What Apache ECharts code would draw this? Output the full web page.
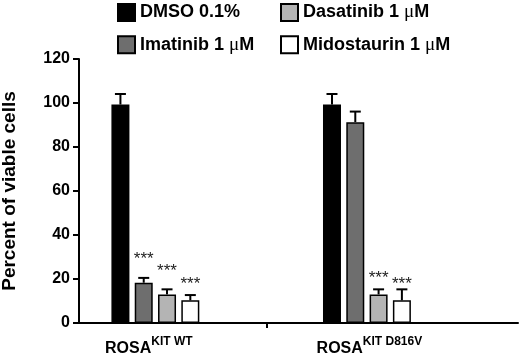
<!DOCTYPE html>
<html>
<head>
<meta charset="utf-8">
<script src="https://cdn.jsdelivr.net/npm/echarts@6/dist/echarts.min.js"></script>
<style>
html, body { margin: 0; padding: 0; background: #fff; }
#chart { width: 520px; height: 355px; }
</style>
</head>
<body>
<div id="chart"></div>
<script>
// groups on the x axis (0 and 1), their labels
var groups = [0, 1];
var groupBase = ['ROSA', 'ROSA'];
var groupSup = ['KIT WT', 'KIT D816V'];
var seriesNames = ['DMSO 0.1%', 'Imatinib 1 μM', 'Dasatinib 1 μM', 'Midostaurin 1 μM'];
var seriesColors = ['#000000', '#6e6e6e', '#b4b4b4', '#ffffff'];

// percent of viable cells, mean and error
var dmso = [99.3, 99.3];
var dmsoErr = [4.8, 4.8];
var imatinib = [18.3, 91.3];
var imatinibErr = [2.2, 4.8];
var dasatinib = [13.0, 13.0];
var dasatinibErr = [2.3, 2.3];
var midostaurin = [10.3, 10.3];
var midostaurinErr = [2.4, 5.0];

// where the *** marks sit (axis value), null = no mark
var dmsoStars = [null, null];
var imatinibStars = [30.8, null];
var dasatinibStars = [25.1, 22.0];
var midostaurinStars = [19.4, 19.4];

var yTicks = [0, 20, 40, 60, 80, 100, 120];
var dividerTicks = [0.527];

var BAR_W = 18;
var BAR_STEP = 23.3;
var CAP_W = 11;

var chart = echarts.init(document.getElementById('chart'));

var means = [dmso, imatinib, dasatinib, midostaurin];
var errs = [dmsoErr, imatinibErr, dasatinibErr, midostaurinErr];
var stars = [dmsoStars, imatinibStars, dasatinibStars, midostaurinStars];

var barSeries = [];
var errData = [];
var starData = [];
for (var s = 0; s < seriesNames.length; s++) {
	var d = [];
	for (var g = 0; g < groups.length; g++) {
		d.push([groups[g], means[s][g]]);
		errData.push([groups[g], means[s][g], errs[s][g], s]);
		if (stars[s][g] != null) starData.push([groups[g], stars[s][g], s]);
	}
	barSeries.push({
		name: seriesNames[s],
		type: 'bar',
		barWidth: BAR_W,
		barGap: ((BAR_STEP - BAR_W) / BAR_W * 100) + '%',
		itemStyle: { color: seriesColors[s], borderColor: '#000', borderWidth: 1.5 },
		data: d,
		z: 2
	});
}

var fontMain = "'Liberation Sans', Arial, sans-serif";
var labelShift = 0.238;

function legendFmt(name) {
	return name.replace('μ', '{mu|μ}');
}
var legendText = {
	fontSize: 18, fontWeight: 'bold', fontFamily: fontMain, color: '#000',
	rich: { mu: { fontSize: 19, fontFamily: "'Liberation Serif', serif", fontWeight: 'normal', color: '#000' } }
};

var option = {
	animation: false,
	legend: [{
		data: [seriesNames[0], seriesNames[1]],
		orient: 'vertical', left: 117, top: 3, padding: 0,
		icon: 'rect', itemWidth: 17, itemHeight: 17, itemGap: 13.3,
		formatter: legendFmt, textStyle: legendText
	}, {
		data: [seriesNames[2], seriesNames[3]],
		orient: 'vertical', left: 280, top: 3, padding: 0,
		icon: 'rect', itemWidth: 17, itemHeight: 17, itemGap: 13.3,
		formatter: legendFmt, textStyle: legendText
	}],
	grid: { left: 79, right: 2, top: 59, bottom: 32, outerBoundsMode: 'none', containLabel: false },
	xAxis: {
		type: 'value',
		min: -0.361,
		max: 1.714,
		splitLine: { show: false },
		axisLine: { lineStyle: { color: '#000', width: 2 } },
		axisTick: { customValues: dividerTicks, length: 5, lineStyle: { color: '#000', width: 2 } },
		axisLabel: {
			customValues: groups.map(function (g) { return g - labelShift; }),
			align: 'left',
			margin: 13,
			formatter: function (v) {
				var i = Math.round(v + labelShift);
				return '{b|' + groupBase[i] + '}{s|' + groupSup[i] + '}';
			},
			rich: {
				b: { fontSize: 16, fontWeight: 'bold', fontFamily: fontMain, color: '#000', lineHeight: 25 },
				s: { fontSize: 12, fontWeight: 'bold', fontFamily: fontMain, color: '#000', lineHeight: 12, verticalAlign: 'top' }
			}
		}
	},
	yAxis: {
		type: 'value',
		min: yTicks[0],
		max: yTicks[yTicks.length - 1],
		interval: 20,
		name: 'Percent of viable cells',
		nameLocation: 'middle',
		nameGap: 60,
		nameTextStyle: { fontSize: 19, fontWeight: 'bold', fontFamily: fontMain, color: '#000' },
		splitLine: { show: false },
		axisLine: { show: true, onZero: false, lineStyle: { color: '#000', width: 2 } },
		axisTick: { show: true, length: 6, lineStyle: { color: '#000', width: 2 } },
		axisLabel: { fontSize: 16, fontWeight: 'bold', fontFamily: fontMain, color: '#000', margin: 9 }
	},
	series: barSeries.concat([{
		type: 'custom',
		name: 'err',
		z: 3,
		encode: { x: 0, y: 1 },
		data: errData,
		renderItem: function (params, api) {
			var s = api.value(3);
			var base = api.coord([api.value(0), api.value(1)]);
			var top = api.coord([api.value(0), api.value(1) + api.value(2)]);
			var x = base[0] + (s - 1.5) * BAR_STEP;
			var st = { stroke: '#000', lineWidth: 2 };
			return {
				type: 'group',
				children: [
					{ type: 'line', shape: { x1: x, y1: base[1], x2: x, y2: top[1] }, style: st },
					{ type: 'line', shape: { x1: x - CAP_W / 2, y1: top[1], x2: x + CAP_W / 2, y2: top[1] }, style: st }
				]
			};
		}
	}, {
		type: 'custom',
		name: 'stars',
		z: 3,
		encode: { x: 0, y: 1 },
		data: starData,
		renderItem: function (params, api) {
			var s = api.value(2);
			var p = api.coord([api.value(0), api.value(1)]);
			return {
				type: 'text',
				style: {
					text: '***',
					x: p[0] + (s - 1.5) * BAR_STEP,
					y: p[1] + 4,
					align: 'center',
					verticalAlign: 'middle',
					fontSize: 17,
					fontFamily: fontMain,
					fill: '#222'
				}
			};
		}
	}])
};
chart.setOption(option);
</script>
</body>
</html>
